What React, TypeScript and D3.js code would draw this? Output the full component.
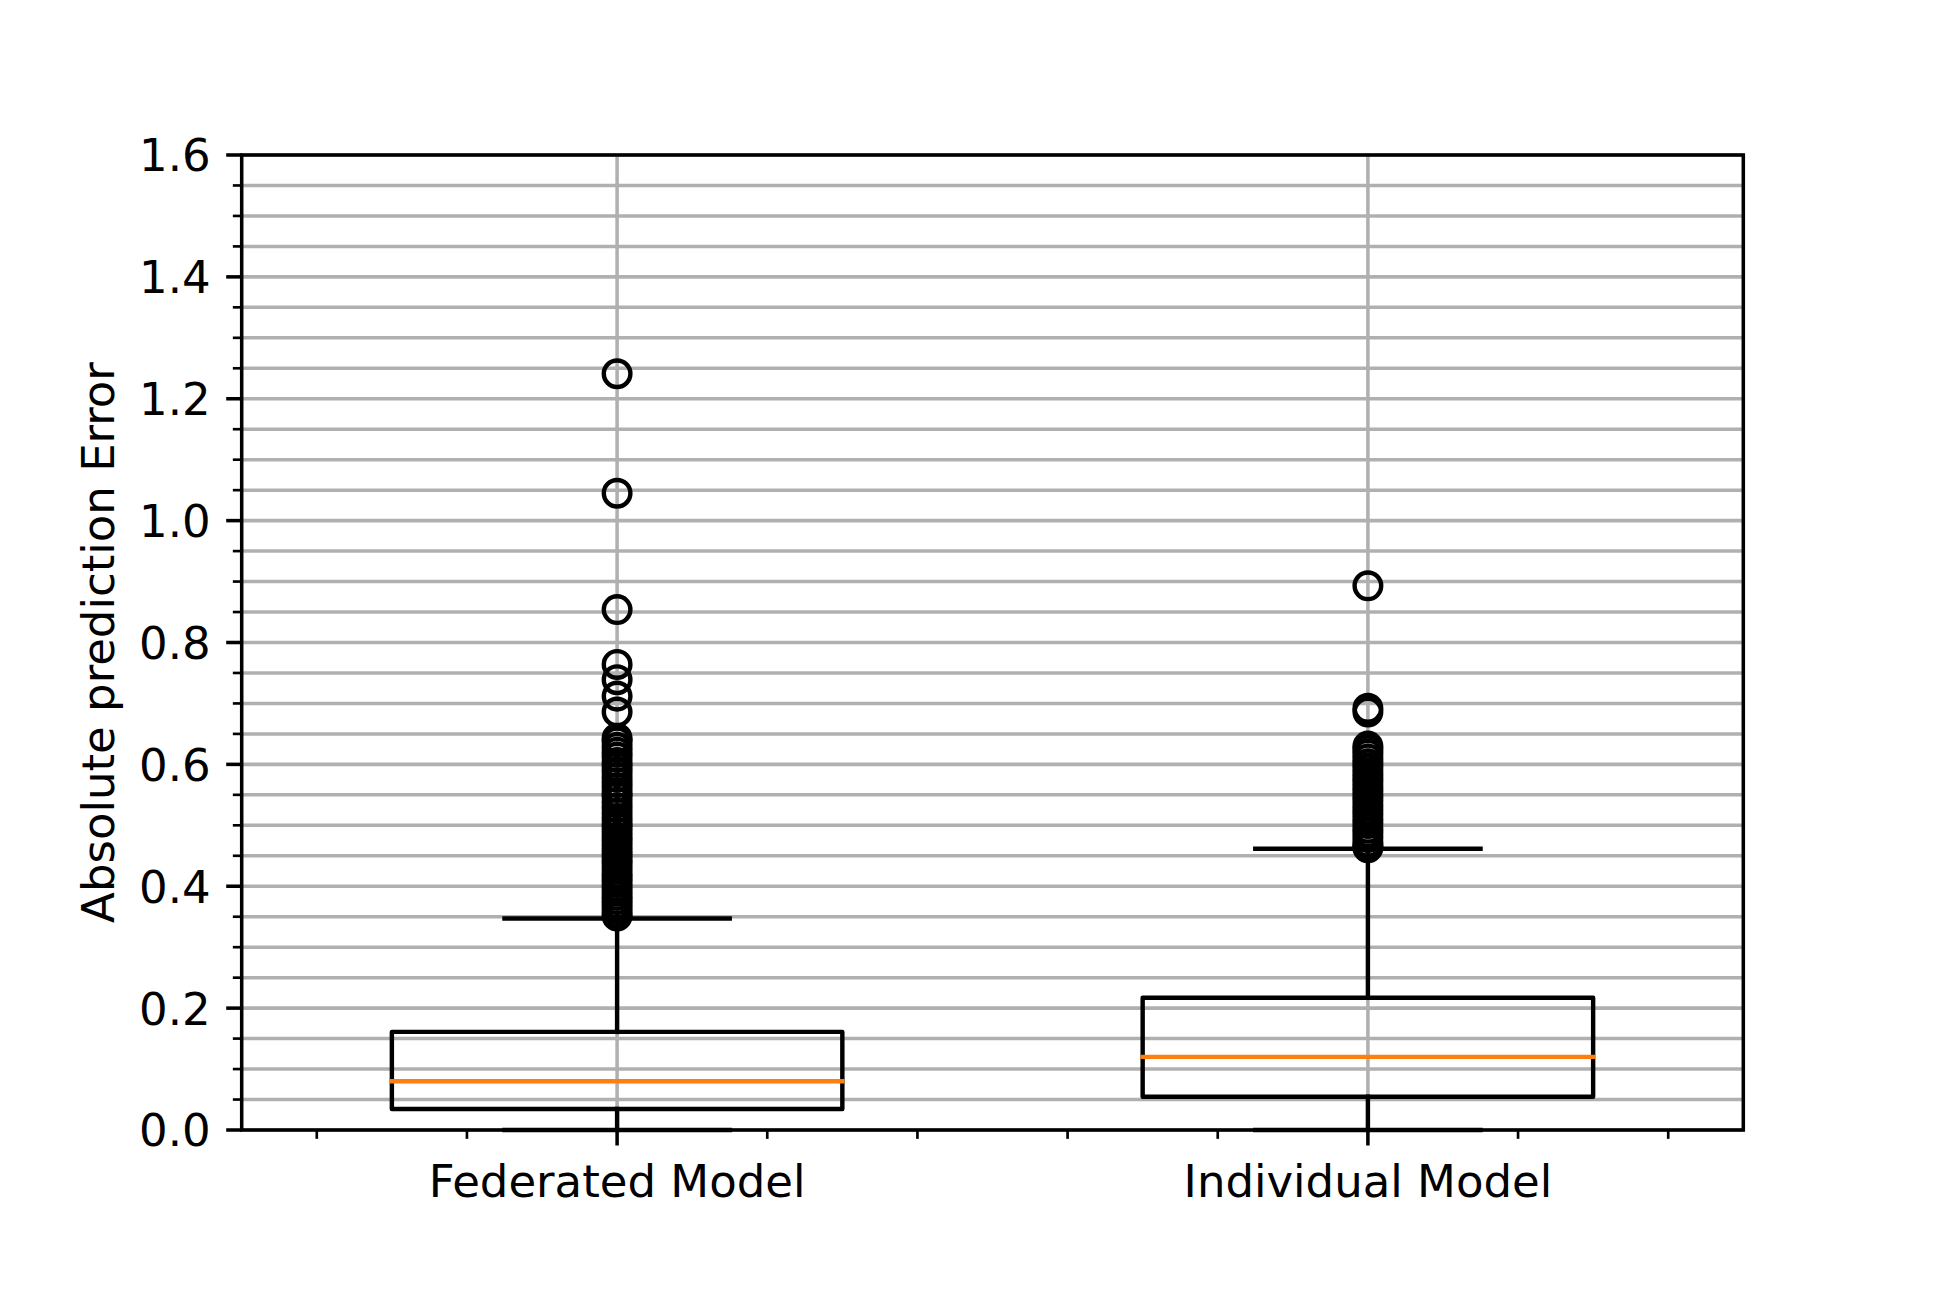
import React from "react";
import * as d3 from "d3";

const categories = ["Federated Model", "Individual Model"];
const positions = [1, 2];
const whiskerLow = [0.0, 0.0];
const q1 = [0.0345, 0.0546];
const medians = [0.08, 0.12];
const q3 = [0.161, 0.217];
const whiskerHigh = [0.347, 0.4616];
const fliersFederated = [
  1.241, 1.045, 0.854, 0.764, 0.739, 0.712, 0.686, 0.643, 0.637, 0.628, 0.62,
  0.612, 0.603, 0.596, 0.588, 0.579, 0.57, 0.562, 0.553, 0.547, 0.538, 0.529,
  0.52, 0.511, 0.503, 0.497, 0.489, 0.481, 0.474, 0.466, 0.458, 0.451, 0.444,
  0.437, 0.429, 0.421, 0.414, 0.407, 0.399, 0.392, 0.385, 0.378, 0.371, 0.364,
  0.357, 0.351,
];
const fliersIndividual = [
  0.893, 0.692, 0.686, 0.63, 0.624, 0.617, 0.609, 0.601, 0.594, 0.586, 0.578,
  0.571, 0.563, 0.556, 0.548, 0.541, 0.533, 0.525, 0.518, 0.51, 0.503, 0.495,
  0.488, 0.48, 0.472, 0.466, 0.463,
];
const fliers = [fliersFederated, fliersIndividual];
const yMajorTicks = [0, 0.2, 0.4, 0.6, 0.8, 1.0, 1.2, 1.4, 1.6];
const yTickLabels = ["0.0", "0.2", "0.4", "0.6", "0.8", "1.0", "1.2", "1.4", "1.6"];
const yMinorTicks = [
  0.05, 0.1, 0.15, 0.25, 0.3, 0.35, 0.45, 0.5, 0.55, 0.65, 0.7, 0.75, 0.85, 0.9,
  0.95, 1.05, 1.1, 1.15, 1.25, 1.3, 1.35, 1.45, 1.5, 1.55,
];
const xMinorTicks = [0.6, 0.8, 1.2, 1.4, 1.6, 1.8, 2.2, 2.4];
const yLabel = "Absolute prediction Error";

const W = 1937;
const H = 1292;
const PT = 4.43;
const L = 241.7, R = 1743.3, T = 155, B = 1130;
const FONT = "'DejaVu Sans', sans-serif";
const FS = 45;

export default function App() {
  const x = d3.scaleLinear().domain([0.5, 2.5]).range([L, R]);
  const y = d3.scaleLinear().domain([0, 1.6]).range([B, T]);
  const boxW = 0.6;
  const capW = 0.3;
  const lw = PT;
  const gridW = 0.8 * PT;
  const allY = [...yMajorTicks, ...yMinorTicks];
  return (
    <svg
      width={W}
      height={H}
      style={{ position: "absolute", left: 0, top: 0, background: "#fff" }}
      fontFamily={FONT}
    >
      <rect x={0} y={0} width={W} height={H} fill="#fff" />
      {/* grid */}
      <g stroke="#b0b0b0" strokeWidth={gridW}>
        {allY.map((v, i) => (
          <line key={"gy" + i} x1={L} x2={R} y1={y(v)} y2={y(v)} />
        ))}
        {positions.map((p, i) => (
          <line key={"gx" + i} x1={x(p)} x2={x(p)} y1={T} y2={B} />
        ))}
      </g>
      {/* boxes */}
      {positions.map((p, i) => {
        const cx = x(p);
        const bl = x(p - boxW / 2);
        const br = x(p + boxW / 2);
        const cl = x(p - capW / 2);
        const cr = x(p + capW / 2);
        return (
          <g key={"b" + i} fill="none">
            <line x1={cx} x2={cx} y1={y(q1[i])} y2={y(whiskerLow[i])} stroke="#000" strokeWidth={lw} strokeLinecap="square" />
            <line x1={cx} x2={cx} y1={y(q3[i])} y2={y(whiskerHigh[i])} stroke="#000" strokeWidth={lw} strokeLinecap="square" />
            <line x1={cl} x2={cr} y1={y(whiskerLow[i])} y2={y(whiskerLow[i])} stroke="#000" strokeWidth={lw} strokeLinecap="square" />
            <line x1={cl} x2={cr} y1={y(whiskerHigh[i])} y2={y(whiskerHigh[i])} stroke="#000" strokeWidth={lw} strokeLinecap="square" />
            <rect
              x={bl}
              y={y(q3[i])}
              width={br - bl}
              height={y(q1[i]) - y(q3[i])}
              stroke="#000"
              strokeWidth={lw}
              strokeLinejoin="round"
            />
            <line x1={bl} x2={br} y1={y(medians[i])} y2={y(medians[i])} stroke="#ff7f0e" strokeWidth={lw} strokeLinecap="square" />
            {fliers[i].map((v, j) => (
              <circle key={j} cx={cx} cy={y(v)} r={3 * PT} stroke="#000" strokeWidth={lw} fill="none" />
            ))}
          </g>
        );
      })}
      {/* spines */}
      <rect x={L} y={T} width={R - L} height={B - T} fill="none" stroke="#000" strokeWidth={0.8 * PT} strokeLinejoin="miter" />
      {/* ticks */}
      <g stroke="#000">
        {yMajorTicks.map((v, i) => (
          <line key={"ym" + i} x1={L - 3.5 * PT} x2={L} y1={y(v)} y2={y(v)} strokeWidth={0.8 * PT} />
        ))}
        {yMinorTicks.map((v, i) => (
          <line key={"yn" + i} x1={L - 2 * PT} x2={L} y1={y(v)} y2={y(v)} strokeWidth={0.6 * PT} />
        ))}
        {positions.map((p, i) => (
          <line key={"xm" + i} x1={x(p)} x2={x(p)} y1={B} y2={B + 3.5 * PT} strokeWidth={0.8 * PT} />
        ))}
        {xMinorTicks.map((v, i) => (
          <line key={"xn" + i} x1={x(v)} x2={x(v)} y1={B} y2={B + 2 * PT} strokeWidth={0.6 * PT} />
        ))}
      </g>
      <g fontSize={FS} fill="#000">
        {yMajorTicks.map((v, i) => (
          <text key={"yl" + i} x={L - 7 * PT} y={y(v) + 0.364 * FS} textAnchor="end">
            {yTickLabels[i]}
          </text>
        ))}
        {positions.map((p, i) => (
          <text key={"xl" + i} x={x(p)} y={B + 7 * PT + 0.76 * FS + 2} textAnchor="middle">
            {categories[i]}
          </text>
        ))}
        <text
          transform={`translate(${114},${(T + B) / 2}) rotate(-90)`}
          textAnchor="middle"
        >
          {yLabel}
        </text>
      </g>
    </svg>
  );
}
